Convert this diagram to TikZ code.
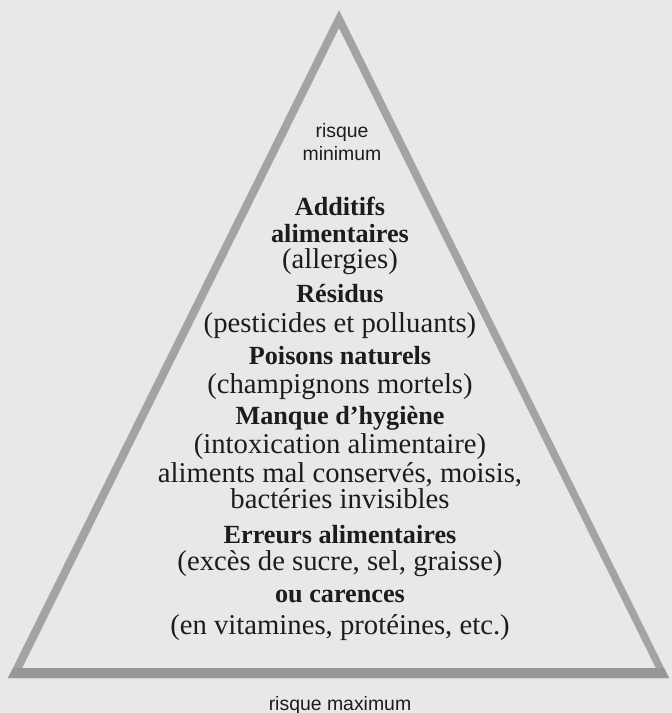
\documentclass[tikz,border=0pt]{standalone}
\usepackage{fontspec}
\setmainfont{Liberation Serif}
\newfontfamily\sansfam{Liberation Sans}
\definecolor{paper}{HTML}{E8E8E8}
\definecolor{slopegray}{HTML}{A3A3A3}
\definecolor{basegray}{HTML}{979797}
\definecolor{ink}{HTML}{1C1C1C}
\begin{document}
\begin{tikzpicture}[x=1bp,y=-1bp,
  txt/.style={anchor=base, inner sep=0pt, text=ink},
  reg/.style={txt, font=\fontsize{28.8}{30}\selectfont},
  bld/.style={txt, font=\fontsize{26.3}{28}\selectfont\bfseries},
  sns/.style={txt, font=\sansfam\fontsize{19.5}{21}\selectfont}]
\useasboundingbox[fill=paper] (0,0) rectangle (672,713);
% pyramid outline
\fill[slopegray, even odd rule] (339,10) -- (8,678) -- (669,678) -- cycle
      (339,28) -- (22.2,668) -- (655.8,668) -- cycle;
\fill[basegray] (8,678) -- (669,678) -- (664,668) -- (13,668) -- cycle;
% texts
\node[sns] (rmin1) at (342,138) {risque};
\node[sns] (rmin2) at (342,160) {minimum};
\node[bld] (add1) at (340,215) {Additifs};
\node[bld] (add2) at (340,242) {alimentaires};
\node[reg] (add3) at (340,268) {(allergies)};
\node[bld] (res1) at (340,302) {Résidus};
\node[reg] (res2) at (340,332) {(pesticides et polluants)};
\node[bld] (poi1) at (340,364) {Poisons naturels};
\node[reg] (poi2) at (340,393) {(champignons mortels)};
\node[bld] (hyg1) at (340,424) {Manque d’hygiène};
\node[reg] (hyg2) at (340,453) {(intoxication alimentaire)};
\node[reg] (hyg3) at (340,482) {aliments mal conservés, moisis,};
\node[reg] (hyg4) at (340,508) {bactéries invisibles};
\node[bld] (err1) at (340,543) {Erreurs alimentaires};
\node[reg] (err2) at (340,570) {(excès de sucre, sel, graisse)};
\node[bld] (car1) at (340,602) {ou carences};
\node[reg] (car2) at (340,634) {(en vitamines, protéines, etc.)};
\node[sns] (rmax) at (340,710) {risque maximum};
\end{tikzpicture}
\end{document}
